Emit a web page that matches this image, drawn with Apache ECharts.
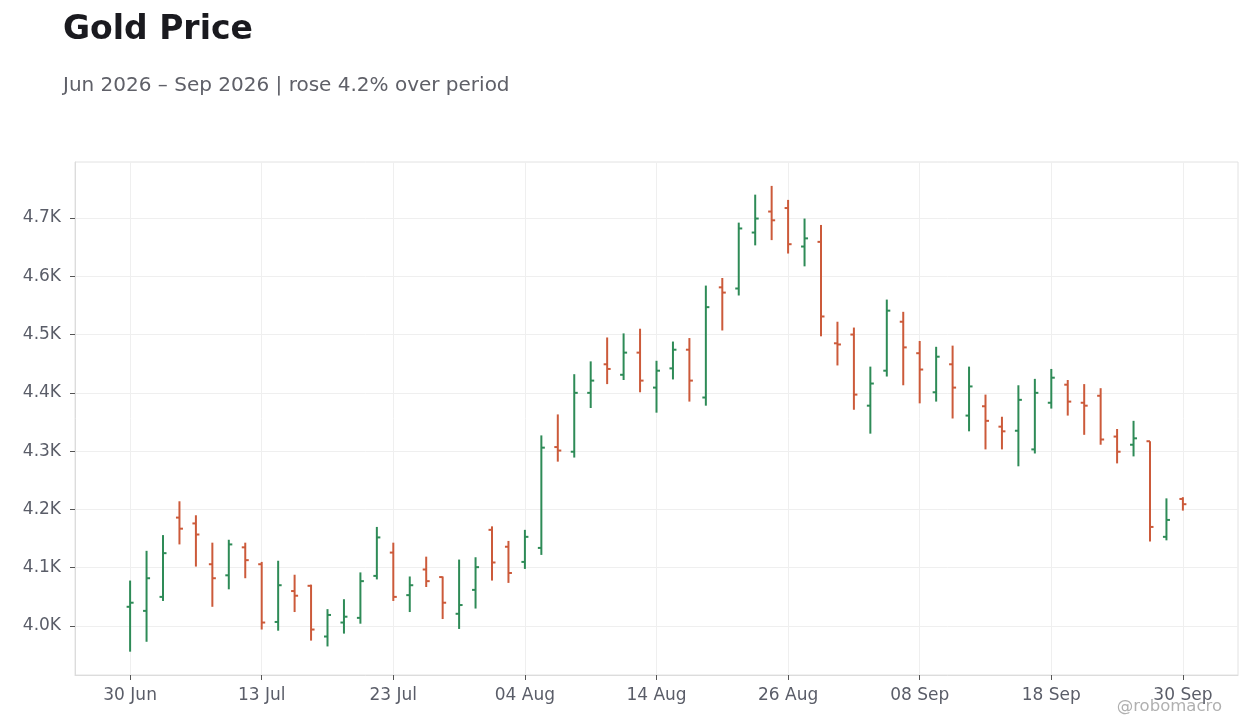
<!DOCTYPE html>
<html>
<head>
<meta charset="utf-8">
<title>Gold Price</title>
<script src="https://cdn.jsdelivr.net/npm/echarts@6/dist/echarts.min.js"></script>
<style>
  html, body { margin: 0; padding: 0; background: #fff; }
  #ohlc { width: 1260px; height: 728px; }
</style>
</head>
<body>
<div id="ohlc"></div>
<script>
// trading days, Jun 30 - Sep 30 2026
var dates = [
  '2026-06-30',
  '2026-07-01', '2026-07-02', '2026-07-06', '2026-07-07', '2026-07-08', '2026-07-09', '2026-07-10',
  '2026-07-13', '2026-07-14', '2026-07-15', '2026-07-16', '2026-07-17',
  '2026-07-20', '2026-07-21', '2026-07-22', '2026-07-23', '2026-07-24',
  '2026-07-27', '2026-07-28', '2026-07-29', '2026-07-30', '2026-07-31',
  '2026-08-03', '2026-08-04', '2026-08-05', '2026-08-06', '2026-08-07',
  '2026-08-10', '2026-08-11', '2026-08-12', '2026-08-13', '2026-08-14',
  '2026-08-17', '2026-08-18', '2026-08-19', '2026-08-20', '2026-08-21',
  '2026-08-24', '2026-08-25', '2026-08-26', '2026-08-27', '2026-08-28',
  '2026-08-31', '2026-09-01', '2026-09-02', '2026-09-03', '2026-09-04',
  '2026-09-08', '2026-09-09', '2026-09-10', '2026-09-11',
  '2026-09-14', '2026-09-15', '2026-09-16', '2026-09-17', '2026-09-18',
  '2026-09-21', '2026-09-22', '2026-09-23', '2026-09-24', '2026-09-25',
  '2026-09-28', '2026-09-29', '2026-09-30'
];

var opens = [
  4033, 4026, 4050, 4186, 4176, 4106, 4087, 4135, 4106, 4007, 4060, 4069, 3982, 4006, 4014, 4086,
  4126, 4053, 4097, 4084, 4021, 4062, 4165, 4136, 4110, 4134, 4307, 4299, 4400, 4449, 4431, 4469,
  4409, 4442, 4474, 4392, 4581, 4579, 4675, 4711, 4717, 4651, 4659, 4485, 4500, 4378, 4438, 4522,
  4468, 4401, 4449, 4361, 4377, 4342, 4335, 4303, 4383, 4414, 4383, 4395, 4325, 4311, 4317, 4153,
  4218
];
var highs = [
  4078, 4129, 4156, 4214, 4190, 4143, 4148, 4143, 4110, 4112, 4088, 4071, 4029, 4046, 4092, 4170,
  4143, 4085, 4119, 4085, 4114, 4118, 4171, 4146, 4165, 4327, 4363, 4432, 4454, 4495, 4502, 4510,
  4455, 4488, 4494, 4584, 4597, 4692, 4740, 4755, 4731, 4699, 4688, 4522, 4512, 4445, 4560, 4539,
  4489, 4479, 4481, 4445, 4397, 4359, 4413, 4424, 4441, 4422, 4415, 4408, 4338, 4352, 4317, 4219,
  4221
];
var lows = [
  3956, 3973, 4043, 4140, 4102, 4033, 4063, 4082, 3994, 3992, 4024, 3975, 3965, 3987, 4004, 4080,
  4043, 4024, 4067, 4012, 3995, 4030, 4078, 4074, 4098, 4122, 4282, 4289, 4374, 4415, 4422, 4401,
  4366, 4423, 4385, 4378, 4507, 4567, 4653, 4662, 4639, 4617, 4497, 4447, 4371, 4330, 4428, 4413,
  4382, 4385, 4356, 4334, 4303, 4303, 4274, 4296, 4373, 4361, 4328, 4311, 4279, 4291, 4145, 4147,
  4198
];
var closes = [
  4040, 4082, 4125, 4167, 4157, 4082, 4140, 4113, 4006, 4070, 4052, 3994, 4019, 4016, 4077, 4152,
  4050, 4070, 4077, 4040, 4036, 4101, 4109, 4091, 4153, 4306, 4301, 4400, 4421, 4441, 4469, 4421,
  4438, 4474, 4421, 4547, 4572, 4682, 4699, 4696, 4655, 4665, 4531, 4483, 4397, 4416, 4541, 4478,
  4440, 4462, 4409, 4411, 4352, 4334, 4388, 4400, 4426, 4385, 4378, 4320, 4299, 4322, 4170, 4182,
  4209
];

var xTickIdx = [0, 8, 16, 24, 32, 40, 48, 56, 64];
var yTicks = [4000, 4100, 4200, 4300, 4400, 4500, 4600, 4700];

var upColor = '#2e8b57';
var downColor = '#cc5a3a';
var labelColor = '#5a5d68';
var months = ['Jan', 'Feb', 'Mar', 'Apr', 'May', 'Jun', 'Jul', 'Aug', 'Sep', 'Oct', 'Nov', 'Dec'];

function fmtDate(s) {
  var p = s.split('-');
  return p[2] + ' ' + months[parseInt(p[1], 10) - 1];
}

var ohlcData = dates.map(function (d, i) {
  return [i, opens[i], closes[i], lows[i], highs[i]];
});

var myChart = echarts.init(document.getElementById('ohlc'));

// one OHLC bar: high-low stem, open tick left, close tick right
function renderBar(params, api) {
  var x = api.value(0);
  var o = api.coord([x, api.value(1)]);
  var c = api.coord([x, api.value(2)]);
  var l = api.coord([x, api.value(3)]);
  var h = api.coord([x, api.value(4)]);
  var color = api.value(2) >= api.value(1) ? upColor : downColor;
  var style = { stroke: color, lineWidth: 2 };
  var tick = 3.5;
  return {
    type: 'group',
    children: [
      { type: 'line', shape: { x1: h[0], y1: h[1], x2: l[0], y2: l[1] }, style: style },
      { type: 'line', shape: { x1: o[0] - tick, y1: o[1], x2: o[0], y2: o[1] }, style: style },
      { type: 'line', shape: { x1: c[0], y1: c[1], x2: c[0] + tick, y2: c[1] }, style: style }
    ]
  };
}

var option = {
  backgroundColor: '#fff',
  textStyle: { fontFamily: 'DejaVu Sans' },
  title: {
    left: 58,
    top: 5,
    text: 'Gold Price',
    subtext: 'Jun 2026 \u2013 Sep 2026 | rose 4.2% over period',
    itemGap: 24,
    textStyle: { fontSize: 33, fontWeight: 'bold', color: '#1a1a1f', lineHeight: 40 },
    subtextStyle: { fontSize: 20, color: '#5f6068', lineHeight: 24 }
  },
  grid: {
    left: 75,
    right: 22,
    top: 162,
    bottom: 53,
    show: true,
    borderColor: '#e2e2e2',
    borderWidth: 1
  },
  xAxis: {
    type: 'value',
    min: -3.35,
    max: dates.length - 1 + 3.35,
    axisLine: { show: true, onZero: false, lineStyle: { color: '#dcdcdc' } },
    axisTick: {
      show: true,
      customValues: xTickIdx,
      length: 5,
      lineStyle: { color: '#555' }
    },
    axisLabel: {
      customValues: xTickIdx,
      margin: 12,
      fontSize: 17,
      color: labelColor,
      formatter: function (v) {
        return fmtDate(dates[Math.round(v)]);
      }
    },
    splitLine: { show: true, lineStyle: { color: '#efefef' } }
  },
  yAxis: {
    type: 'value',
    min: 3916,
    max: 4796,
    axisLine: { show: true, onZero: false, lineStyle: { color: '#dcdcdc' } },
    axisTick: {
      show: true,
      customValues: yTicks,
      length: 5,
      lineStyle: { color: '#555' }
    },
    axisLabel: {
      customValues: yTicks,
      margin: 14,
      fontSize: 17,
      color: labelColor,
      formatter: function (v) {
        return (v / 1000).toFixed(1) + 'K';
      }
    },
    splitLine: { show: true, lineStyle: { color: '#efefef' } }
  },
  series: [
    {
      type: 'custom',
      renderItem: renderBar,
      data: ohlcData,
      encode: { x: 0, y: [1, 2, 3, 4] },
      clip: true
    }
  ],
  graphic: [
    {
      type: 'text',
      right: 38,
      bottom: 13,
      style: {
        text: '@robomacro',
        fontSize: 16.5,
        fontFamily: 'DejaVu Sans',
        fill: '#b0b0b0'
      }
    }
  ]
};

myChart.setOption(option);

window.addEventListener('resize', function () {
  myChart.resize();
});
</script>
</body>
</html>
